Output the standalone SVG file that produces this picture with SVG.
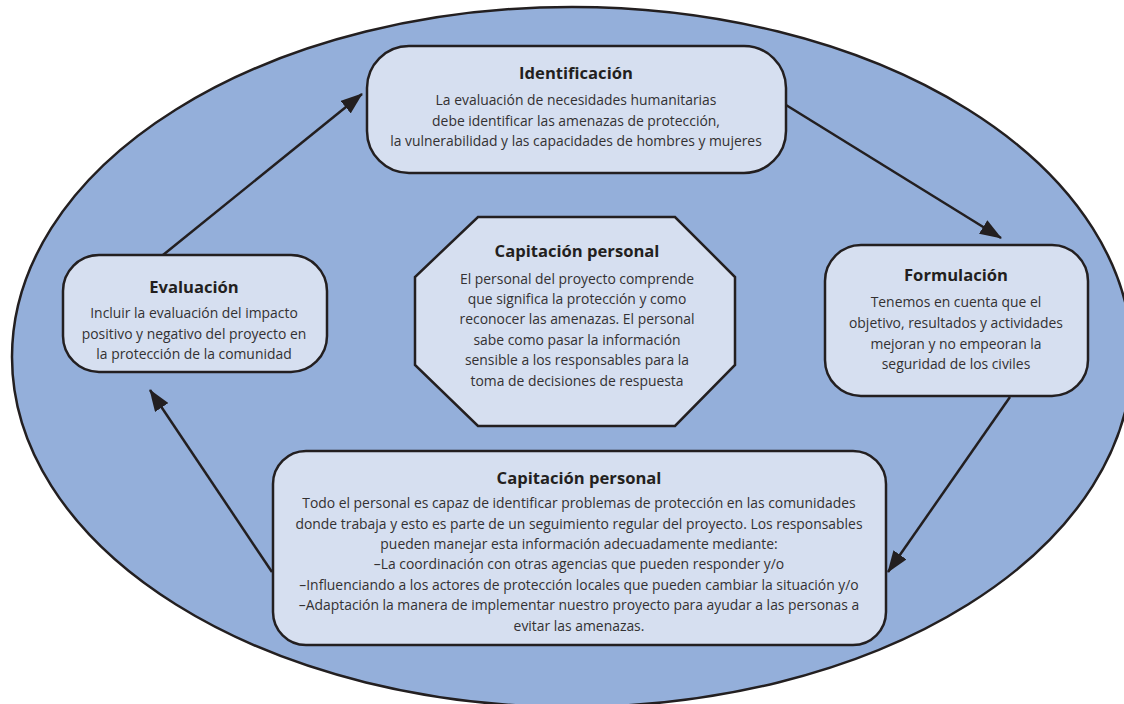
<svg xmlns="http://www.w3.org/2000/svg" width="1124" height="704" viewBox="0 0 1124 704">
<style>
.box{fill:#d6dff0;stroke:#231f20;stroke-width:2.5}
.t{font-family:"Open Sans","Liberation Sans",sans-serif;font-weight:bold;font-size:16.6px;fill:#231f20;text-anchor:middle}
.b{font-family:"Open Sans","Liberation Sans",sans-serif;font-size:13.9px;fill:#333132;text-anchor:middle}
.c{stroke:#231f20;stroke-width:2.5;fill:none;marker-end:url(#ah)}
</style>
<defs>
<marker id="ah" markerUnits="userSpaceOnUse" markerWidth="22" markerHeight="16" refX="21" refY="8" orient="auto">
<path d="M0,0 L22,8 L0,16 z" fill="#231f20"/>
</marker>
</defs>
<rect width="1124" height="704" fill="#ffffff"/>
<ellipse id="background" cx="572" cy="357" rx="560" ry="350" fill="#94afda" stroke="#231f20" stroke-width="2.5"/>
<g id="connectors">
<line class="c" x1="163" y1="255" x2="362" y2="94"/>
<line class="c" x1="786" y1="105" x2="1001" y2="238"/>
<line class="c" x1="1010" y1="397" x2="888" y2="572"/>
<line class="c" x1="272" y1="572" x2="150" y2="390"/>
</g>
<g id="identificacion">
<rect class="box" x="367" y="46" width="419" height="127" rx="42" ry="42"/>
<text class="t" x="576" y="79">Identificación</text>
<text class="b" x="576" y="105">La evaluación de necesidades humanitarias</text>
<text class="b" x="576" y="126">debe identificar las amenazas de protección,</text>
<text class="b" x="576" y="146">la vulnerabilidad y las capacidades de hombres y mujeres</text>
</g>
<g id="evaluacion">
<rect class="box" x="63" y="255" width="264" height="117" rx="36" ry="36"/>
<text class="t" x="194" y="293">Evaluación</text>
<text class="b" x="194" y="318">Incluir la evaluación del impacto</text>
<text class="b" x="194" y="339">positivo y negativo del proyecto en</text>
<text class="b" x="194" y="359">la protección de la comunidad</text>
</g>
<g id="formulacion">
<rect class="box" x="825" y="245" width="263" height="151" rx="36" ry="36"/>
<text class="t" x="956" y="281">Formulación</text>
<text class="b" x="956" y="307">Tenemos en cuenta que el</text>
<text class="b" x="956" y="328">objetivo, resultados y actividades</text>
<text class="b" x="956" y="349">mejoran y no empeoran la</text>
<text class="b" x="956" y="369">seguridad de los civiles</text>
</g>
<g id="capacitacion-centro">
<polygon class="box" points="478,217 675,217 735,277 735,365 675,426 478,426 415,365 415,277"/>
<text class="t" x="577" y="257">Capitación personal</text>
<text class="b" x="577" y="284">El personal del proyecto comprende</text>
<text class="b" x="577" y="304">que significa la protección y como</text>
<text class="b" x="577" y="324">reconocer las amenazas. El personal</text>
<text class="b" x="577" y="345">sabe como pasar la información</text>
<text class="b" x="577" y="365">sensible a los responsables para la</text>
<text class="b" x="577" y="386">toma de decisiones de respuesta</text>
</g>
<g id="capacitacion-inferior">
<rect class="box" x="273" y="451" width="613" height="194" rx="33" ry="33"/>
<text class="t" x="579" y="484">Capitación personal</text>
<text class="b" x="579" y="508">Todo el personal es capaz de identificar problemas de protección en las comunidades</text>
<text class="b" x="579" y="528.5">donde trabaja y esto es parte de un seguimiento regular del proyecto. Los responsables</text>
<text class="b" x="579" y="549">pueden manejar esta información adecuadamente mediante:</text>
<text class="b" x="579" y="569">–La coordinación con otras agencias que pueden responder y/o</text>
<text class="b" x="579" y="589.5">–Influenciando a los actores de protección locales que pueden cambiar la situación y/o</text>
<text class="b" x="579" y="610">–Adaptación la manera de implementar nuestro proyecto para ayudar a las personas a</text>
<text class="b" x="579" y="630.5">evitar las amenazas.</text>
</g>
</svg>
